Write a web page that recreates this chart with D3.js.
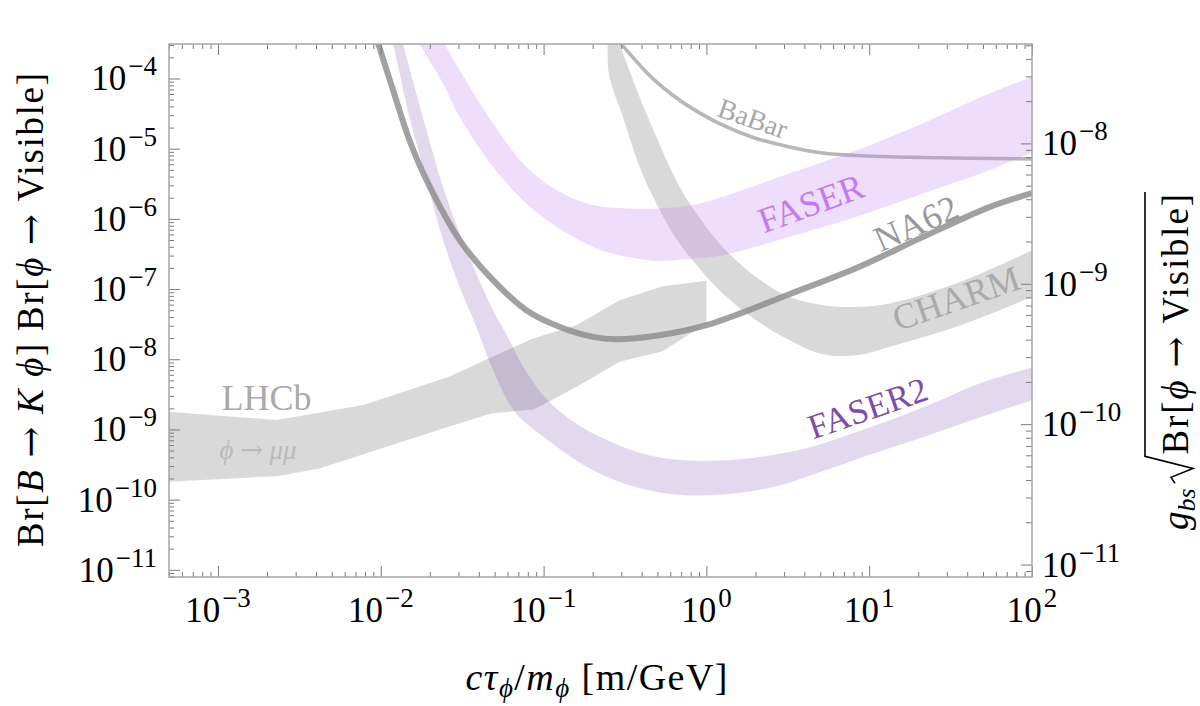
<!DOCTYPE html>
<html>
<head>
<meta charset="utf-8">
<script src="https://cdn.jsdelivr.net/npm/d3@7"></script>
<style>
  body { margin: 0; background: #fff; }
  text { font-family: "Liberation Serif", "DejaVu Serif", serif; white-space: pre; }
  .arr { font-family: "DejaVu Serif", serif; }
</style>
</head>
<body>
<div id="chart"></div>
<script>
// values: [c tau / m (m/GeV), Br]
var lhcbUpper = [[5e-4,1.78e-9],[2.29e-3,1.36e-9],[7.7e-3,2.22e-9],[2.6e-2,5.6e-9],[8.6e-2,1.98e-8],[0.159,3.06e-8],[0.293,6.95e-8],[0.538,1.1e-7],[1.0,1.31e-7]];
var lhcbLower = [[5e-4,1.8e-10],[2.29e-3,2.16e-10],[4.2e-3,2.78e-10],[2.6e-2,1.09e-9],[4.75e-2,1.69e-9],[8.7e-2,1.93e-9],[0.16,4.05e-9],[0.293,9.2e-9],[0.538,1.3e-8],[1.0,3.27e-8]];

var na62 = [[8.67e-3,6.8e-4],[9.64e-3,3.15e-4],[1.19e-2,6.8e-5],[1.5e-2,1.32e-5],[1.91e-2,3.56e-6],[3.05e-2,4.98e-7],[4.89e-2,1.34e-7],[7.83e-2,5.0e-8],[0.125,2.9e-8],[0.201,2.08e-8],[0.279,1.93e-8],[0.515,2.2e-8],[1.0,3.06e-8],[3.24,8.45e-8],[8.34,1.99e-7],[21.3,5.49e-7],[54.8,1.47e-6],[100,2.32e-6]];

var babar = [[0.258,4.88e-4],[0.30,3.08e-4],[0.337,2.27e-4],[0.407,1.39e-4],[0.493,8.95e-5],[0.622,5.78e-5],[0.789,3.94e-5],[1.26,2.16e-5],[2.02,1.40e-5],[3.24,1.06e-5],[5.19,8.7e-6],[8.34,8.0e-6],[21.3,7.5e-6],[100,7.16e-6]];

var faserInner = [[2.2e-2,4.88e-4],[2.47e-2,3.08e-4],[3.05e-2,1.31e-4],[4.89e-2,2.29e-5],[7.83e-2,5.5e-6],[0.125,2.43e-6],[0.201,1.57e-6],[0.322,1.41e-6],[0.516,1.41e-6],[0.828,1.57e-6],[1.26,2.06e-6],[3.24,4.43e-6],[8.34,9.5e-6],[21.3,2.29e-5],[54.8,6.1e-5],[100,1.05e-4]];
var faserOuter = [[1.54e-2,4.88e-4],[1.73e-2,3.08e-4],[2.41e-2,8.5e-5],[3.05e-2,2.84e-5],[4.89e-2,5.5e-6],[7.83e-2,1.66e-6],[0.125,7.3e-7],[0.201,3.99e-7],[0.322,2.88e-7],[0.516,2.52e-7],[0.828,2.73e-7],[1.26,3.04e-7],[3.24,5.55e-7],[8.34,1.07e-6],[21.3,2.3e-6],[54.8,4.94e-6],[100,8.9e-6]];

var faser2Inner = [[1.30e-2,4.88e-4],[1.37e-2,3.08e-4],[1.91e-2,1.83e-5],[2.41e-2,2.86e-6],[3.05e-2,6.19e-7],[3.86e-2,1.67e-7],[4.89e-2,5.0e-8],[6.18e-2,1.87e-8],[7.46e-2,7.97e-9],[0.106,2.61e-9],[0.170,1.09e-9],[0.273,6.32e-10],[0.436,4.31e-10],[0.701,3.66e-10],[1.12,3.57e-10],[1.80,3.86e-10],[2.88,4.55e-10],[4.61,5.78e-10],[7.39,8.3e-10],[11.85,1.22e-9],[19.0,1.84e-9],[30.4,2.91e-9],[48.7,4.61e-9],[100,7.64e-9]];
var faser2Outer = [[1.13e-2,4.88e-4],[1.19e-2,3.08e-4],[1.50e-2,2.84e-5],[1.91e-2,3.56e-6],[2.41e-2,4.98e-7],[3.05e-2,1.07e-7],[3.86e-2,2.9e-8],[4.89e-2,7.0e-9],[6.64e-2,1.78e-9],[0.106,7.05e-10],[0.170,3.28e-10],[0.273,1.90e-10],[0.436,1.37e-10],[0.701,1.16e-10],[1.12,1.16e-10],[1.80,1.29e-10],[2.88,1.61e-10],[4.61,2.31e-10],[7.39,3.39e-10],[11.85,4.91e-10],[19.0,7.1e-10],[30.4,1.03e-9],[48.7,1.50e-9],[100,2.61e-9]];

var charmInner = [[0.272,4.88e-4],[0.293,3.08e-4],[0.389,5.47e-5],[0.493,1.47e-5],[0.622,4.43e-6],[0.789,1.66e-6],[1.26,3.99e-7],[2.02,1.49e-7],[3.24,7.74e-8],[5.19,5.9e-8],[8.34,5.57e-8],[13.3,6.24e-8],[34.2,1.2e-7],[100,3.58e-7]];
var charmOuter = [[0.2506,4.88e-4],[0.2506,1.23e-4],[0.307,2.84e-5],[0.389,5.5e-6],[0.493,1.66e-6],[0.622,6.19e-7],[0.789,2.88e-7],[1.26,8.65e-8],[2.02,3.6e-8],[3.24,1.87e-8],[5.19,1.18e-8],[8.34,1.14e-8],[13.3,1.5e-8],[34.2,2.9e-8],[100,7.74e-8]];

// tick labels (powers of ten)
var xTickPowers = [-3, -2, -1, 0, 1, 2];
var yTickPowers = [-11, -10, -9, -8, -7, -6, -5, -4];
var rTickPowers = [-11, -10, -9, -8];

// right axis: g_bs * sqrt(Br)
var gbsFactor = 2.9e-6;

var w = 1200;
var h = 706;
var margin = {top: 44, right: 168, bottom: 129, left: 169};
var pw = w - margin.left - margin.right;
var ph = h - margin.top - margin.bottom;

var xScale = d3.scaleLog().domain([5e-4, 100]).range([0, pw]);
var yScale = d3.scaleLog().domain([7.9e-12, 3.1e-4]).range([ph, 0]);
var rScale = d3.scaleLog()
    .domain(yScale.domain().map(function(v) { return gbsFactor * Math.sqrt(v); }))
    .range([ph, 0]);

function minorTicks(dom) {
    var out = [];
    for (var k = Math.floor(Math.log10(dom[0])); k <= Math.ceil(Math.log10(dom[1])); k++) {
        for (var m = 2; m <= 9; m++) {
            var v = m * Math.pow(10, k);
            if (v >= dom[0] && v <= dom[1]) out.push(v);
        }
    }
    return out;
}
function pow10(list) { return list.map(function(p) { return Math.pow(10, p); }); }

var svg = d3.select("#chart").append("svg")
    .attr("width", w)
    .attr("height", h);

svg.append("defs").append("clipPath").attr("id", "plotclip")
    .append("rect").attr("width", pw).attr("height", ph);

var g = svg.append("g").attr("transform", "translate(" + margin.left + "," + margin.top + ")");
var plot = g.append("g").attr("clip-path", "url(#plotclip)");

var line = d3.line()
    .x(function(d) { return xScale(d[0]); })
    .y(function(d) { return yScale(d[1]); })
    .curve(d3.curveCatmullRom.alpha(0.5));
var lineLin = d3.line()
    .x(function(d) { return xScale(d[0]); })
    .y(function(d) { return yScale(d[1]); });

function band(inner, outer, gen) {
    return gen(inner) + gen(outer.slice().reverse()).replace(/^M/, "L") + "Z";
}

// bands and limit lines
plot.append("path").attr("d", band(lhcbUpper, lhcbLower, lineLin))
    .attr("fill", "#a0a0a0").attr("fill-opacity", 0.4);
plot.append("path").attr("d", band(charmInner, charmOuter, line))
    .attr("fill", "#a0a0a0").attr("fill-opacity", 0.4);
plot.append("path").attr("d", band(faser2Inner, faser2Outer, line))
    .attr("fill", "#8050b0").attr("fill-opacity", 0.22);
plot.append("path").attr("d", line(babar))
    .attr("fill", "none").attr("stroke", "#999").attr("stroke-opacity", 0.7).attr("stroke-width", 3.6);
plot.append("path").attr("d", band(faserInner, faserOuter, line))
    .attr("fill", "#c080f0").attr("fill-opacity", 0.27);
plot.append("path").attr("d", line(na62))
    .attr("fill", "none").attr("stroke", "#8a8a8a").attr("stroke-opacity", 0.8).attr("stroke-width", 6);

// in-plot labels
var notes = [
    {t: "BaBar",  at: [1.93, 2.69e-5], rot: 19,  size: 28, col: "#a8a8a8"},
    {t: "FASER",  at: [4.4, 1.66e-6],  rot: -20, size: 36, col: "#c07cee"},
    {t: "NA62",   at: [19.4, 8.6e-7],  rot: -24, size: 36, col: "#999"},
    {t: "CHARM",  at: [34.2, 7.35e-8], rot: -19, size: 36, col: "#aaa"},
    {t: "FASER2", at: [9.8, 1.99e-9],  rot: -19, size: 35, col: "#7e4caa"}
];
notes.forEach(function(n) {
    g.append("text")
        .attr("transform", "translate(" + xScale(n.at[0]) + "," + yScale(n.at[1]) + ") rotate(" + n.rot + ")")
        .attr("text-anchor", "middle")
        .attr("dominant-baseline", "central")
        .attr("font-size", n.size)
        .attr("fill", n.col)
        .text(n.t);
});
g.append("text")
    .attr("x", xScale(1.05e-3)).attr("y", yScale(1.88e-9))
    .attr("font-size", 36).attr("fill", "#aaa")
    .text("LHCb");
var mu = g.append("text")
    .attr("x", xScale(1.02e-3)).attr("y", yScale(3.78e-10))
    .attr("font-size", 27).attr("fill", "#bbb");
mu.append("tspan").attr("font-style", "italic").text("\u03D5 ");
mu.append("tspan").attr("class", "arr").text("\u2192");
mu.append("tspan").attr("font-style", "italic").text(" \u03BC\u03BC");

// ticks
function ticks(axis, scale, vals, size, tr) {
    var a = g.append("g").attr("transform", tr)
        .call(axis(scale).tickValues(vals).tickSize(size).tickFormat(""));
    a.select(".domain").remove();
    a.selectAll("line").attr("stroke", "#7a7a7a").attr("stroke-width", 1);
}
var xMaj = pow10(xTickPowers), xMin = minorTicks(xScale.domain());
var yMaj = pow10(yTickPowers), yMin = minorTicks(yScale.domain());
var rMaj = pow10(rTickPowers), rMin = minorTicks(rScale.domain());

ticks(d3.axisBottom, xScale, xMaj, -11, "translate(0," + ph + ")");
ticks(d3.axisBottom, xScale, xMin, -5, "translate(0," + ph + ")");
ticks(d3.axisTop, xScale, xMaj, -11, "translate(0,0)");
ticks(d3.axisTop, xScale, xMin, -5, "translate(0,0)");
ticks(d3.axisLeft, yScale, yMaj, -11, "translate(0,0)");
ticks(d3.axisLeft, yScale, yMin, -5, "translate(0,0)");
ticks(d3.axisRight, rScale, rMaj, -11, "translate(" + pw + ",0)");
ticks(d3.axisRight, rScale, rMin, -6, "translate(" + pw + ",0)");

g.append("rect").attr("width", pw).attr("height", ph)
    .attr("fill", "none").attr("stroke", "#a6a6a6").attr("stroke-width", 1.5);

// tick labels 10^n
function powLabel(px, py, p, anchor) {
    var t = g.append("text").attr("x", px).attr("y", py)
        .attr("text-anchor", anchor).attr("font-size", 35).attr("fill", "#000");
    t.append("tspan").text("10");
    t.append("tspan").attr("dx", 2).attr("dy", -15).attr("font-size", 27)
        .text(p < 0 ? "\u2212" + (-p) : String(p));
}
xTickPowers.forEach(function(p) { powLabel(xScale(Math.pow(10, p)), ph + 45, p, "middle"); });
yTickPowers.forEach(function(p) { powLabel(-12, yScale(Math.pow(10, p)) + 12, p, "end"); });
rTickPowers.forEach(function(p) { powLabel(pw + 10, rScale(Math.pow(10, p)) + 12, p, "start"); });

function fit(sel, target) {
    var L = sel.node().getComputedTextLength();
    if (Math.abs(L - target) > 2) sel.attr("textLength", target).attr("lengthAdjust", "spacing");
}

// x title
var xt = g.append("text").attr("x", pw / 2 - 4).attr("y", ph + 113)
    .attr("text-anchor", "middle").attr("font-size", 38);
xt.append("tspan").attr("font-style", "italic").text("c\u03C4");
xt.append("tspan").attr("font-style", "italic").attr("font-size", 27).attr("dy", 7).text("\u03D5");
xt.append("tspan").attr("dy", -7).text("/");
xt.append("tspan").attr("font-style", "italic").text("m");
xt.append("tspan").attr("font-style", "italic").attr("font-size", 27).attr("dy", 7).text("\u03D5");
xt.append("tspan").attr("dy", -7).text(" [m/GeV]");
fit(xt, 262);

// left title
var lt = svg.append("text")
    .attr("transform", "translate(43,310) rotate(-90)")
    .attr("text-anchor", "middle").attr("font-size", 37);
lt.append("tspan").text("Br[");
lt.append("tspan").attr("font-style", "italic").text("B ");
lt.append("tspan").attr("class", "arr").text("\u2192");
lt.append("tspan").attr("font-style", "italic").text(" K \u03D5");
lt.append("tspan").text("] Br[");
lt.append("tspan").attr("font-style", "italic").text("\u03D5 ");
lt.append("tspan").attr("class", "arr").text("\u2192");
lt.append("tspan").text(" Visible]");
fit(lt, 474);

// right title with square root
var rt = svg.append("g");
var r1 = rt.append("text").attr("font-size", 37);
r1.append("tspan").attr("font-style", "italic").text("g");
r1.append("tspan").attr("font-style", "italic").attr("font-size", 26).attr("dy", 7).text("bs");
var L1 = r1.node().getComputedTextLength();
var gap = 34;
var r2 = rt.append("text").attr("x", L1 + gap).attr("font-size", 37);
r2.append("tspan").text("Br[");
r2.append("tspan").attr("font-style", "italic").text("\u03D5 ");
r2.append("tspan").attr("class", "arr").text("\u2192");
r2.append("tspan").text(" Visible]");
var Ltot = 338;
fit(r2, Ltot - L1 - gap - 2);
var r0 = L1 + 5;
rt.append("path")
    .attr("d", "M" + r0 + ",-13 L" + (r0 + 6) + ",-17 L" + (r0 + 15) + ",5 L" + (r0 + 27) + ",-43 L" + Ltot + ",-43")
    .attr("fill", "none").attr("stroke", "#000").attr("stroke-width", 1.6).attr("stroke-linejoin", "miter");
rt.attr("transform", "translate(1188," + (361 + Ltot / 2) + ") rotate(-90)");
</script>
</body>
</html>
